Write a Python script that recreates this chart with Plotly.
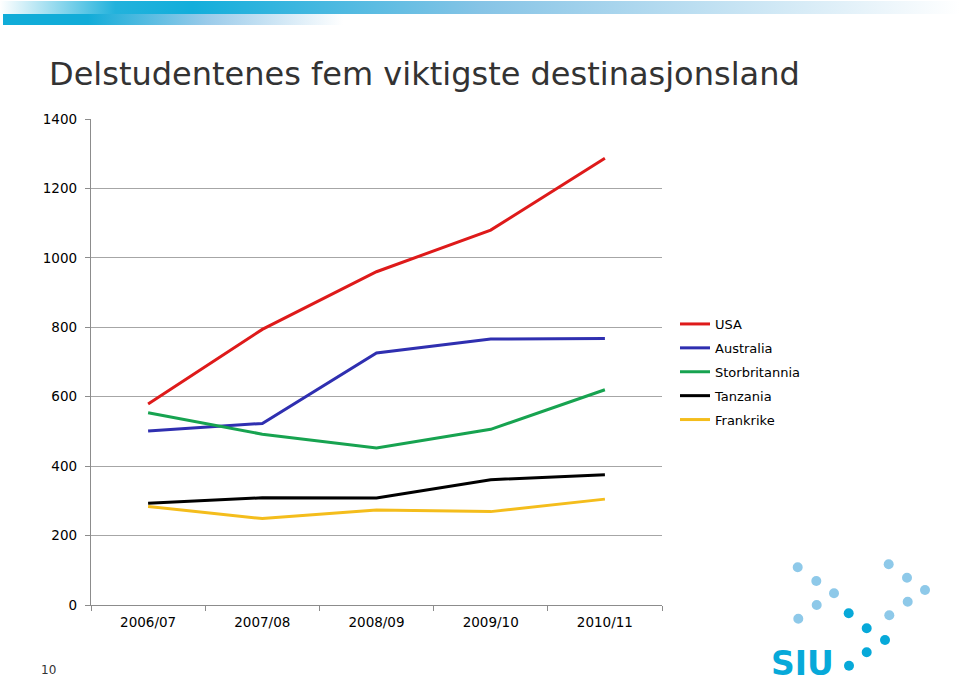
import plotly.graph_objects as go
import base64

# ---- data ----
categories = ["2006/07", "2007/08", "2008/09", "2009/10", "2010/11"]
usa = [579, 794, 960, 1080, 1287]
australia = [501, 523, 726, 766, 768]
storbritannia = [554, 492, 452, 506, 620]
tanzania = [293, 309, 308, 361, 375]
frankrike = [284, 249, 274, 269, 305]
series_names = ["USA", "Australia", "Storbritannia", "Tanzania", "Frankrike"]
y_ticks = [0, 200, 400, 600, 800, 1000, 1200, 1400]

series_values = [usa, australia, storbritannia, tanzania, frankrike]
colors = ["#de1a1a", "#2f2fb0", "#17a350", "#000000", "#f4bd1c"]

W, H = 960, 685
L, R, T, B = 91, 662, 119, 605

fig = go.Figure()
for name, vals, c in zip(series_names, series_values, colors):
    fig.add_trace(go.Scatter(x=categories, y=vals, name=name, mode="lines",
                             legendgroup=name, line=dict(color=c, width=3)))

def px(x):
    return (x - L) / (R - L)

def py(y):
    return (B - y) / (B - T)

# top gradient banner as an SVG image
svg = (
    "<svg xmlns='http://www.w3.org/2000/svg' width='960' height='28'>"
    "<defs>"
    "<linearGradient id='a' x1='0' x2='1' y1='0' y2='0'>"
    "<stop offset='0' stop-color='#ffffff'/>"
    "<stop offset='0.12' stop-color='#22b2dc'/>"
    "<stop offset='0.2' stop-color='#12aedb'/>"
    "<stop offset='0.5' stop-color='#86c4e6'/>"
    "<stop offset='1' stop-color='#ffffff'/>"
    "</linearGradient>"
    "<linearGradient id='b' x1='0' x2='1' y1='0' y2='0'>"
    "<stop offset='0' stop-color='#10acd8'/>"
    "<stop offset='0.25' stop-color='#12acd8'/>"
    "<stop offset='0.6' stop-color='#9acbea'/>"
    "<stop offset='1' stop-color='#ffffff'/>"
    "</linearGradient>"
    "</defs>"
    "<rect x='0' y='1' width='960' height='13' fill='url(#a)'/>"
    "<rect x='3' y='14' width='340' height='11' fill='url(#b)'/>"
    "</svg>"
)
src = "data:image/svg+xml;base64," + base64.b64encode(svg.encode()).decode()
fig.add_layout_image(dict(source=src, xref="paper", yref="paper",
                          x=px(0), y=py(0), sizex=px(960) - px(0), sizey=py(0) - py(28),
                          xanchor="left", yanchor="top", sizing="stretch", layer="above"))

# SIU logo dots
light = [(797.7, 567.3), (816.3, 581), (834, 593.3), (816.7, 605), (798.3, 618.7),
         (888.7, 564.3), (907, 577.7), (925, 590), (907.7, 601.7), (889.3, 615.3)]
dark = [(848.7, 613.3), (866.7, 628.3), (885, 640), (866.7, 652.3), (849, 665.7)]
r = 5
for pts, col in ((light, "#8ec9e9"), (dark, "#07a9d9")):
    for (cx, cy) in pts:
        fig.add_shape(type="circle", xref="paper", yref="paper",
                      x0=px(cx - r), x1=px(cx + r), y0=py(cy + r), y1=py(cy - r),
                      fillcolor=col, line=dict(width=0))

annotations = [
    dict(text="Delstudentenes fem viktigste destinasjonsland", xref="paper", yref="paper",
         x=px(47), y=py(74), xanchor="left", yanchor="middle", showarrow=False,
         font=dict(family="DejaVu Sans", size=32, color="#333333")),
    dict(text="10", xref="paper", yref="paper", x=px(48), y=py(670),
         xanchor="center", yanchor="middle", showarrow=False,
         font=dict(family="DejaVu Sans", size=12, color="#333333")),
    dict(text="<b>SIU</b>", xref="paper", yref="paper", x=px(769), y=py(663),
         xanchor="left", yanchor="middle", showarrow=False,
         font=dict(family="DejaVu Sans", size=33, color="#07a9d9")),
]

fig.update_layout(
    width=W, height=H,
    margin=dict(l=L, r=W - R, t=T, b=H - B, pad=0),
    paper_bgcolor="white", plot_bgcolor="white",
    font=dict(family="DejaVu Sans", size=13, color="#000000"),
    showlegend=True,
    legend=dict(x=px(675), y=py(309), xanchor="left", yanchor="top",
                font=dict(family="DejaVu Sans", size=13, color="#000000"),
                itemwidth=30, tracegroupgap=4, bgcolor="rgba(0,0,0,0)"),
    annotations=annotations,
    xaxis=dict(range=[-0.5, 4.5], showgrid=False, showline=True, linecolor="#8c8c8c",
               linewidth=1.3, ticks="outside", tickson="boundaries", ticklen=5,
               tickcolor="#8c8c8c", ticklabelstandoff=5,
               tickfont=dict(family="DejaVu Sans", size=13.5, color="#000000"),
               fixedrange=True),
    yaxis=dict(range=[0, 1400], tickvals=y_ticks, showgrid=True, gridcolor="#a6a6a6",
               gridwidth=1.3, showline=True, linecolor="#8c8c8c", linewidth=1.3,
               ticks="outside", ticklen=5, tickcolor="#8c8c8c", zeroline=False,
               ticklabelstandoff=5,
               tickfont=dict(family="DejaVu Sans", size=13.5, color="#000000"),
               fixedrange=True),
)

fig.write_html("out.html", config={"displayModeBar": False},
               post_script="document.body.style.margin='0';document.body.style.padding='0';")
